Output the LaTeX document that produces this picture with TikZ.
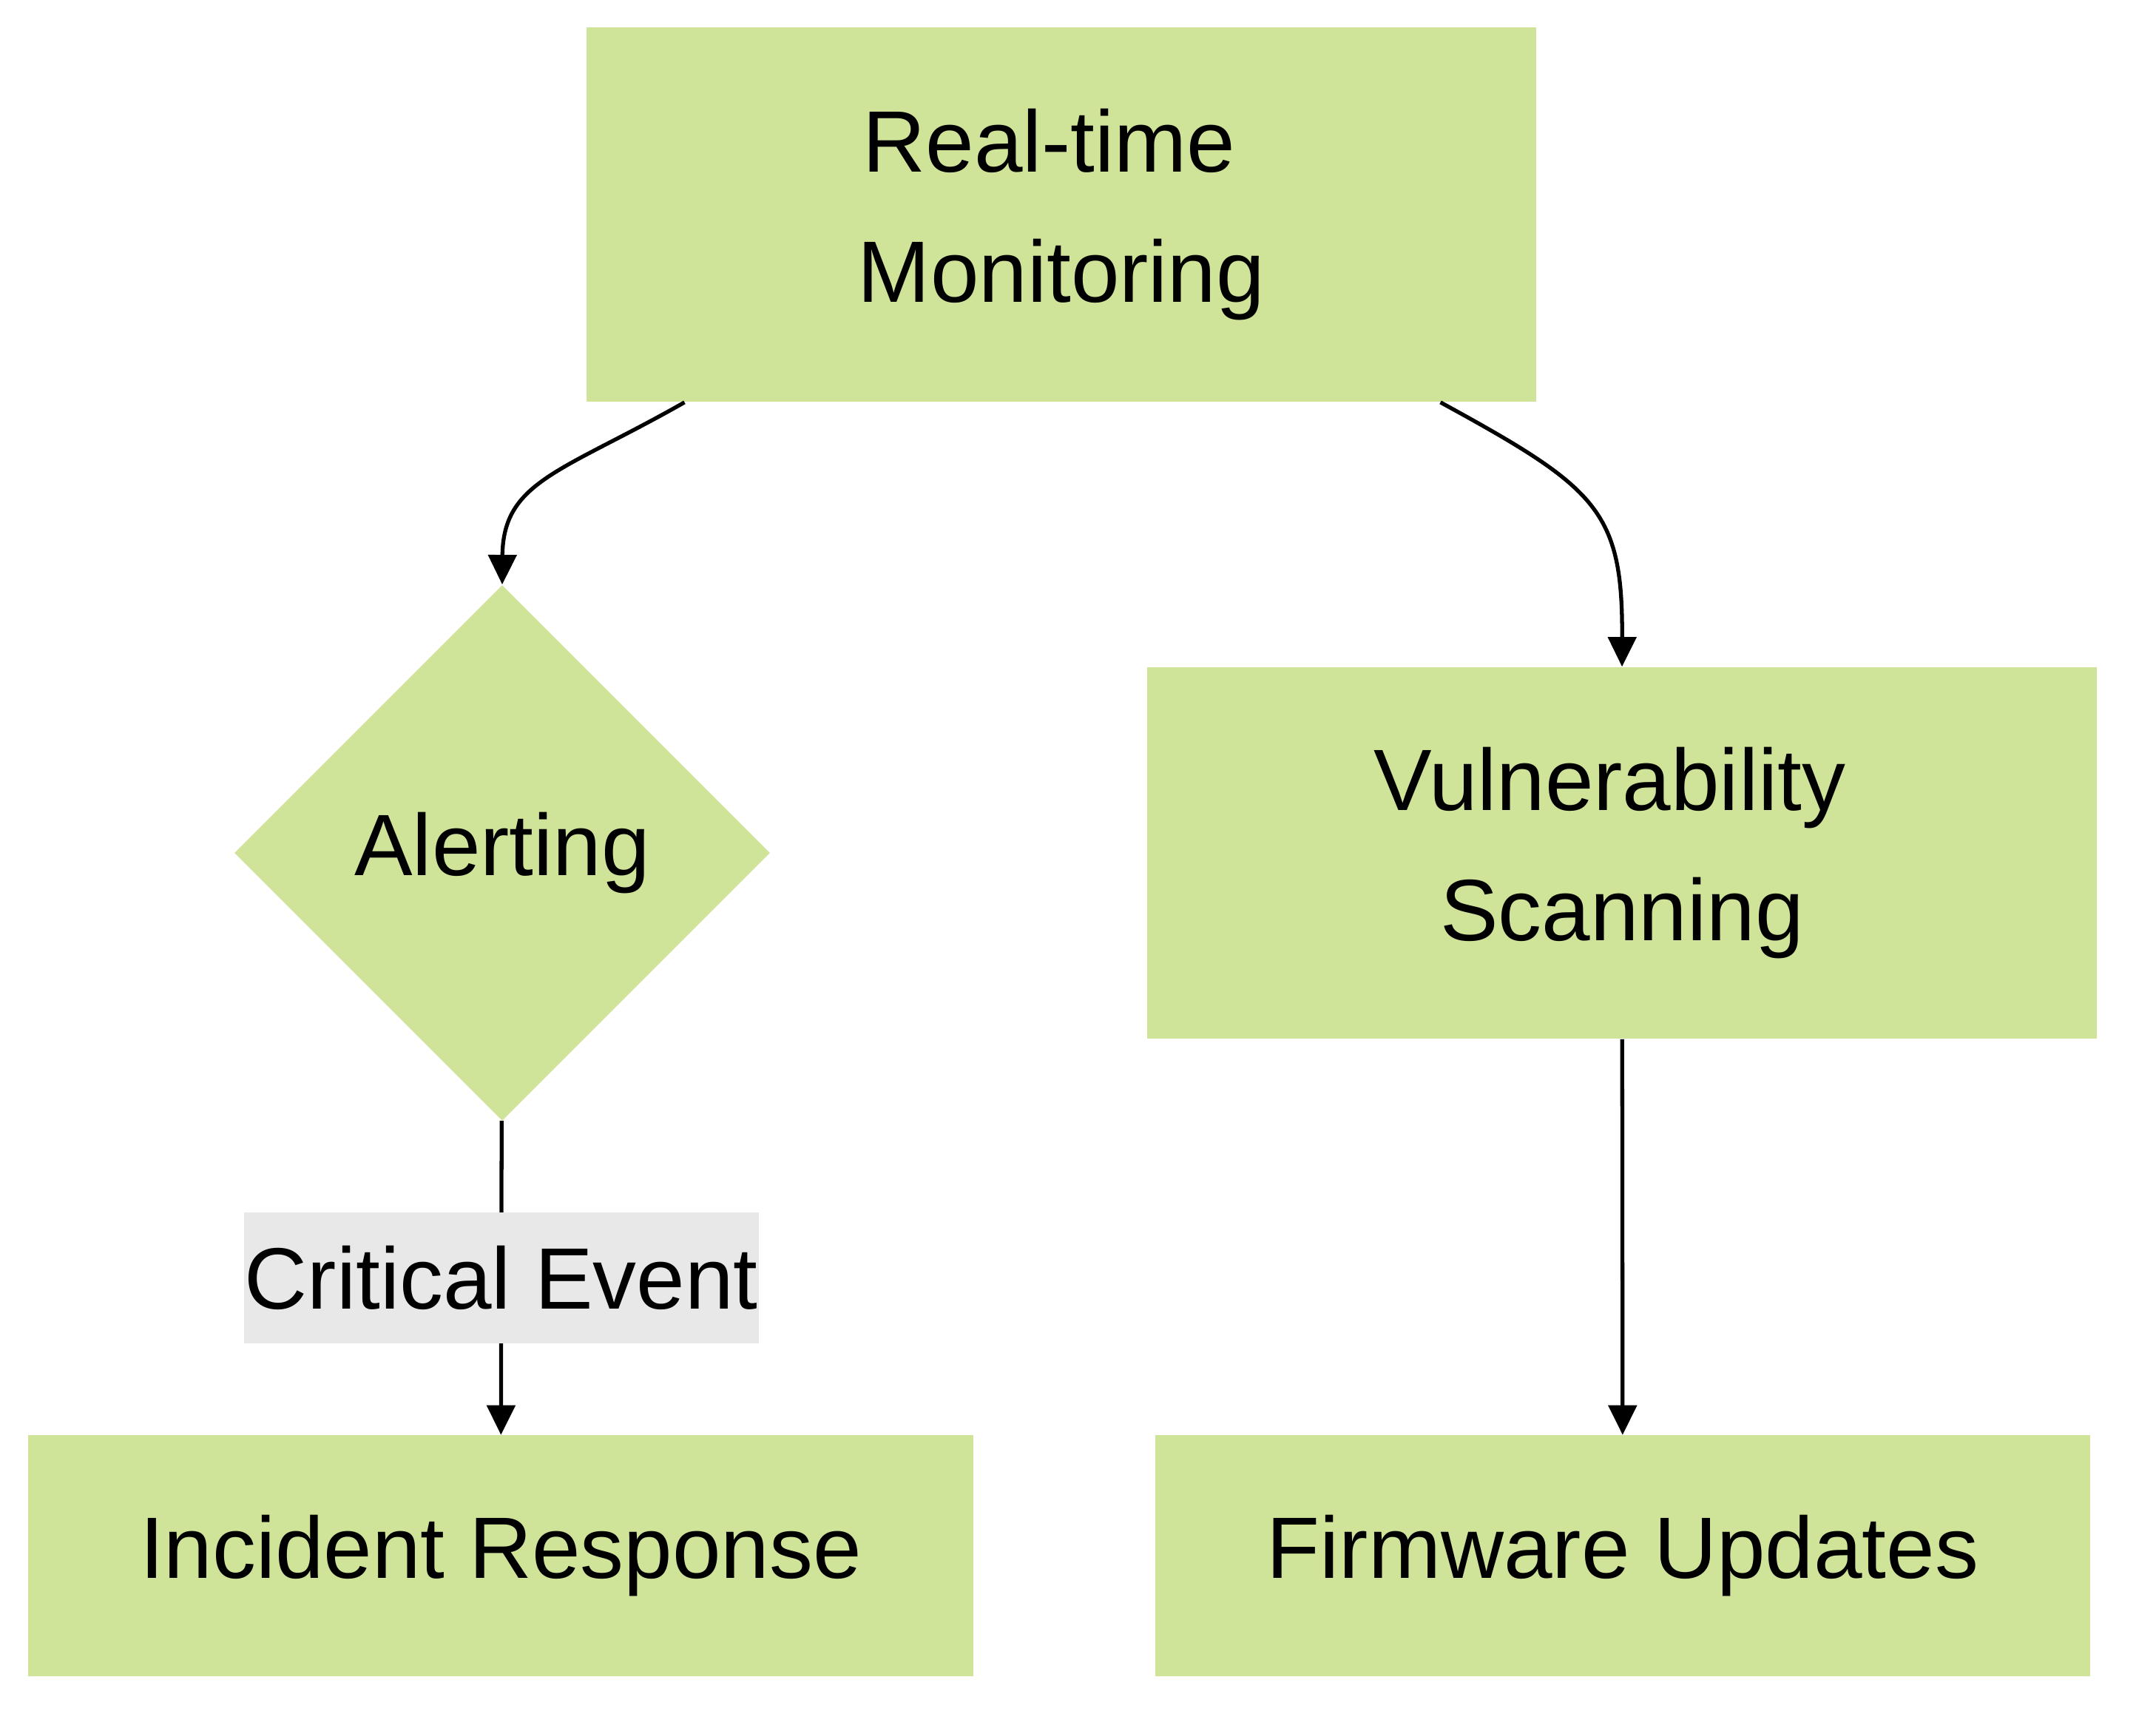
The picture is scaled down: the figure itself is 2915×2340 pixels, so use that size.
\documentclass[tikz,border=0pt]{standalone}
\usepackage{fontspec}
\setmainfont{Liberation Sans}
\usepackage{xcolor}
\usepackage{tikz}
\usetikzlibrary{shapes.geometric}
\usetikzlibrary{arrows.meta, positioning}

\definecolor{boxgreen}{HTML}{CFE399}
\definecolor{labelgray}{HTML}{E8E8E8}

\tikzset{
    box/.style = {rectangle, fill=boxgreen, inner sep=0pt, align=center,
        font=\fontsize{33.5}{50}\selectfont},
    decision/.style = {diamond, aspect=1, fill=boxgreen, inner sep=0pt,
        minimum width=7.24cm, minimum height=7.24cm,
        font=\fontsize{33.5}{50}\selectfont},
    flow/.style = {line width=1.5pt, -{Triangle[length=0.4cm, width=0.38cm]}},
    tag/.style = {fill=labelgray, inner sep=0pt, minimum width=6.95cm,
        minimum height=1.76cm, font=\fontsize{33.5}{50}\selectfont}
}
\newcommand{\trail}{\makebox[0.33cm]{}}

\begin{document}
\begin{tikzpicture}[x=0.01cm, y=-0.01cm]
    \useasboundingbox (0,0) rectangle (2915,2340);
    \node (monitor) [box, minimum width=12.83cm, minimum height=5.06cm] at (1435,290) {Real-time\trail\\Monitoring};
    \node (alert) [decision] at (679,1153) {Alerting};
    \node (vuln) [box, minimum width=12.83cm, minimum height=5.02cm] at (2193,1153) {Vulnerability\trail\\Scanning};
    \node (incident) [box, minimum width=12.77cm, minimum height=3.25cm] at (677,2103) {Incident Response};
    \node (firmware) [box, minimum width=12.64cm, minimum height=3.25cm] at (2194,2103) {Firmware Updates};
    \draw [flow] ([xshift=1.33cm]monitor.south west) .. controls (760,638) and (680,650) .. (alert.north);
    \draw [flow] ([xshift=-1.3cm]monitor.south east) .. controls (2160,660) and (2194,690) .. (vuln.north);
    \path [flow]
        (alert) edge node[tag] {Critical Event} (incident)
        (vuln) edge (firmware);
\end{tikzpicture}
\end{document}
